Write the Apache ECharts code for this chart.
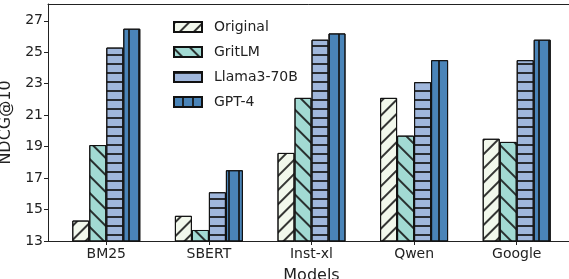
<!DOCTYPE html>
<html>
<head>
<meta charset="utf-8">
<script src="https://cdn.jsdelivr.net/npm/echarts@6/dist/echarts.min.js"></script>
<style>
  html, body { margin: 0; padding: 0; background: #fff; }
  #chart { width: 569px; height: 279px; }
</style>
</head>
<body>
<div id="chart"></div>
<script>
// data
const models = ["BM25", "SBERT", "Inst-xl", "Qwen", "Google"];
const original = [14.3, 14.6, 18.6, 22.1, 19.5];
const gritlm = [19.1, 13.7, 22.1, 19.7, 19.3];
const llama = [25.3, 16.1, 25.8, 23.1, 24.5];
const gpt4 = [26.5, 17.5, 26.2, 24.5, 25.8];
const yTicks = [13, 15, 17, 19, 21, 23, 25, 27];

const font = "DejaVu Sans";
const xPos = models.map((m, i) => i);
const chart = echarts.init(document.getElementById("chart"));

function hatch(rotation, gap) {
  return {
    symbol: "rect",
    symbolSize: 1,
    dashArrayX: [1, 0],
    dashArrayY: [1.2, gap],
    rotation: rotation,
    color: "rgba(20,20,20,0.85)"
  };
}

function barSeries(name, values, fill, decal) {
  return {
    name: name,
    type: "bar",
    data: values.map((v, i) => [xPos[i], v]),
    barWidth: 17,
    barGap: "0%",
    itemStyle: {
      color: fill,
      borderColor: "#111",
      borderWidth: 1,
      decal: decal
    }
  };
}

const spine = { show: true, onZero: false, lineStyle: { color: "#222", width: 1 } };

const option = {
  backgroundColor: "#fff",
  animation: false,
  textStyle: { fontFamily: font },
  grid: { left: 48, right: -6, top: 4, bottom: 38, outerBoundsMode: "none", containLabel: false },
  legend: {
    orient: "vertical",
    left: 168,
    top: 15,
    icon: "rect",
    itemWidth: 28,
    itemHeight: 10,
    itemGap: 11,
    textStyle: { fontFamily: font, fontSize: 14, color: "#222", padding: [0, 0, 0, 7] },
    data: ["Original", "GritLM", "Llama3-70B", "GPT-4"]
  },
  xAxis: [
    {
      type: "value",
      min: -0.568,
      max: 4.568,
      axisLine: spine,
      splitLine: { show: false },
      axisTick: { show: true, length: 4, customValues: xPos, lineStyle: { color: "#222" } },
      axisLabel: {
        fontFamily: font, fontSize: 14, color: "#222", margin: 6,
        customValues: xPos,
        formatter: (v) => models[Math.round(v)]
      },
      name: "Models",
      nameLocation: "middle",
      nameGap: 27,
      nameTextStyle: { fontFamily: font, fontSize: 16, color: "#222" }
    },
    {
      type: "value",
      position: "top",
      min: -0.568,
      max: 4.568,
      axisLine: spine,
      axisTick: { show: false },
      axisLabel: { show: false },
      splitLine: { show: false }
    }
  ],
  yAxis: {
    type: "value",
    min: 13,
    max: 28.07,
    axisLine: spine,
    splitLine: { show: false },
    axisTick: { show: true, length: 4, customValues: yTicks, lineStyle: { color: "#222" } },
    axisLabel: { fontFamily: font, fontSize: 14, color: "#222", margin: 5, customValues: yTicks },
    name: "NDCG@10",
    nameLocation: "middle",
    nameGap: 33,
    nameTextStyle: { fontFamily: font, fontSize: 16, color: "#222" }
  },
  series: [
    barSeries("Original", original, "#f2f8ec", hatch(-Math.PI / 4, 8)),
    barSeries("GritLM", gritlm, "#a2dad3", hatch(Math.PI / 4, 10)),
    barSeries("Llama3-70B", llama, "#a0b7dc", hatch(0, 7)),
    barSeries("GPT-4", gpt4, "#4a84b8", hatch(Math.PI / 2, 8))
  ]
};

chart.setOption(option);
</script>
</body>
</html>
